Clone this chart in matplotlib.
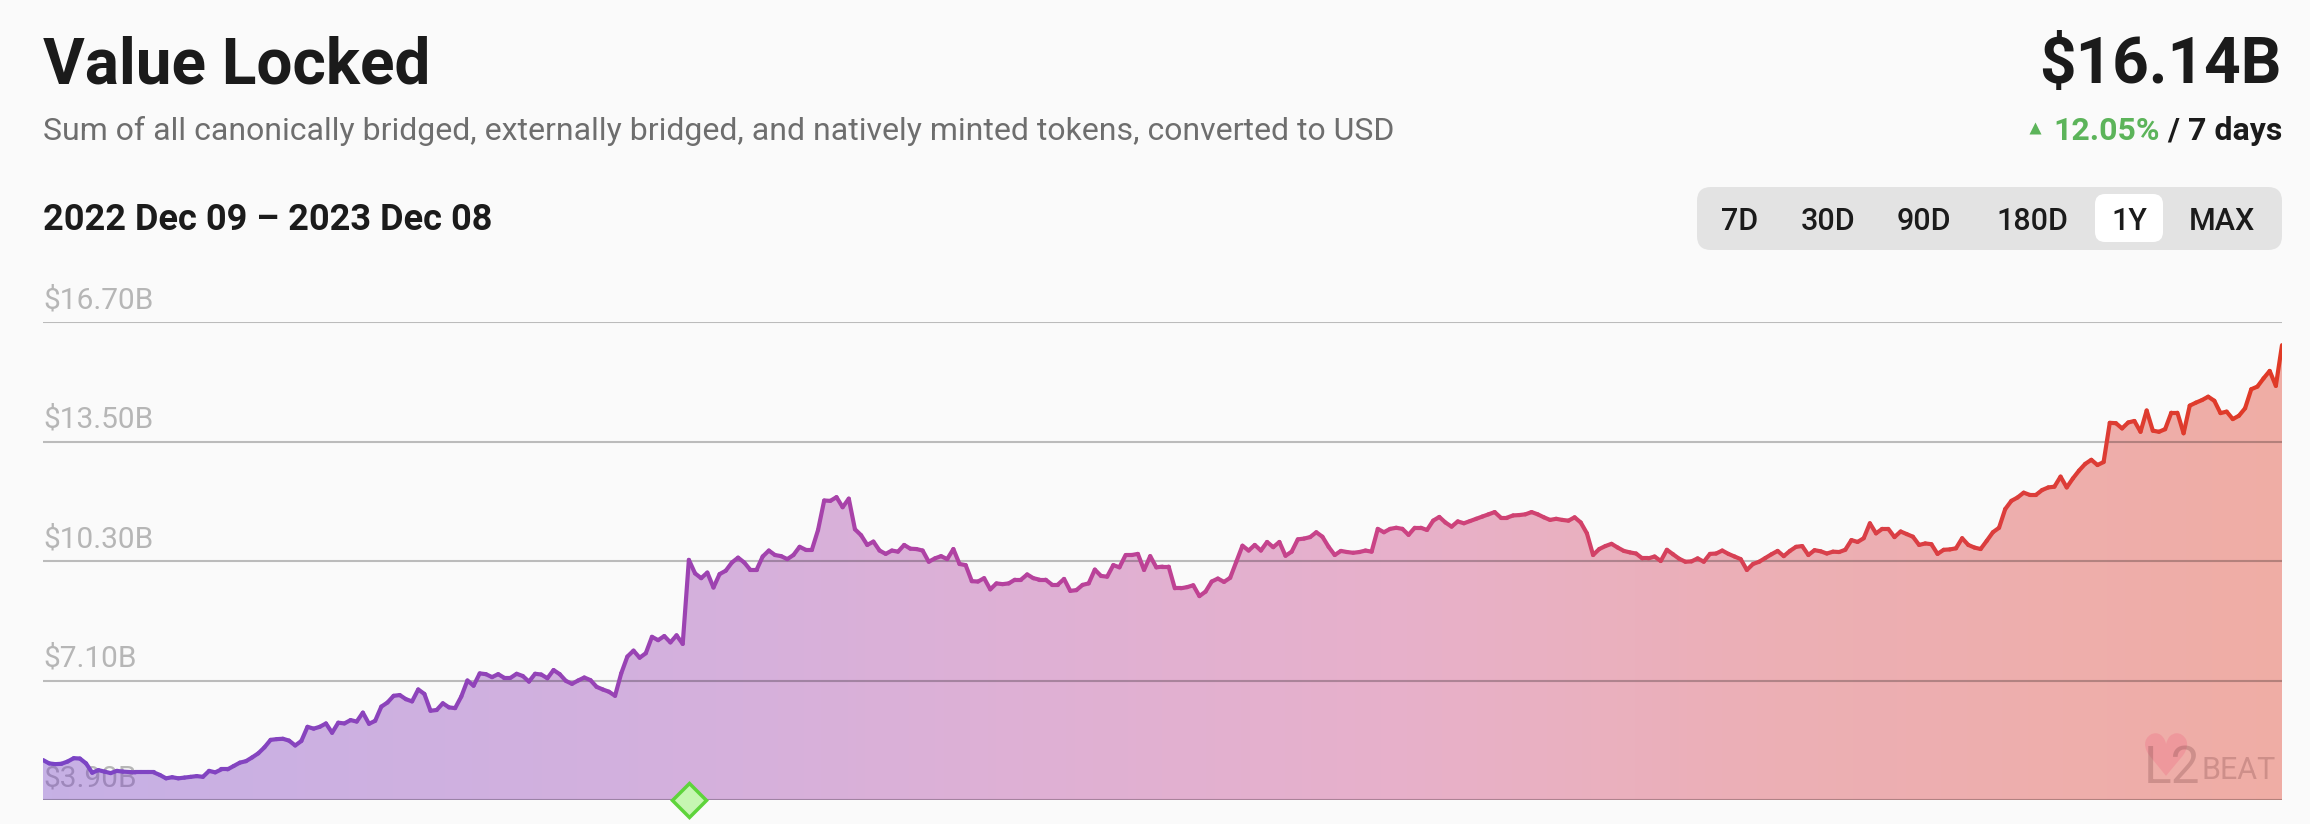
import numpy as np
import pandas as pd
import matplotlib
matplotlib.use('Agg')
import matplotlib.pyplot as plt
import matplotlib.dates as mdates
from matplotlib.collections import LineCollection
from matplotlib.colors import LinearSegmentedColormap
from matplotlib.patches import FancyBboxPatch
from matplotlib.path import Path
from matplotlib.textpath import TextPath
from matplotlib.font_manager import FontProperties

plt.rcParams['font.family'] = ['Roboto', 'DejaVu Sans']

# data: total value locked, $B, one value per day
dates = pd.date_range('2022-12-09', '2023-12-08', freq='D')
tvl = [
    4.97, 4.88, 4.86, 4.87, 4.93, 5.02, 5.01, 4.88, 4.63, 4.70,
    4.66, 4.62, 4.68, 4.66, 4.65, 4.64, 4.64, 4.64, 4.64, 4.57,
    4.48, 4.51, 4.48, 4.50, 4.52, 4.54, 4.52, 4.68, 4.64, 4.72,
    4.72, 4.81, 4.90, 4.94, 5.04, 5.15, 5.31, 5.51, 5.53, 5.54,
    5.49, 5.36, 5.48, 5.86, 5.81, 5.86, 5.95, 5.70, 5.97, 5.95,
    6.04, 6.00, 6.24, 5.94, 6.02, 6.40, 6.51, 6.69, 6.71, 6.60,
    6.54, 6.86, 6.74, 6.29, 6.31, 6.49, 6.38, 6.36, 6.67, 7.10,
    6.96, 7.29, 7.27, 7.19, 7.27, 7.17, 7.17, 7.28, 7.22, 7.07,
    7.28, 7.26, 7.16, 7.38, 7.27, 7.09, 7.01, 7.10, 7.18, 7.11,
    6.93, 6.86, 6.80, 6.69, 7.29, 7.74, 7.90, 7.71, 7.83, 8.27,
    8.18, 8.29, 8.12, 8.31, 8.08, 10.33, 9.97, 9.84, 9.99, 9.59,
    9.95, 10.04, 10.26, 10.39, 10.26, 10.06, 10.06, 10.42, 10.58, 10.46,
    10.43, 10.35, 10.46, 10.68, 10.60, 10.60, 11.13, 11.92, 11.91, 12.01,
    11.74, 11.97, 11.15, 10.99, 10.73, 10.82, 10.58, 10.49, 10.58, 10.55,
    10.73, 10.63, 10.62, 10.58, 10.28, 10.37, 10.43, 10.35, 10.62, 10.22,
    10.19, 9.76, 9.75, 9.84, 9.54, 9.70, 9.68, 9.70, 9.80, 9.80,
    9.94, 9.84, 9.80, 9.80, 9.67, 9.67, 9.82, 9.50, 9.52, 9.66,
    9.70, 10.07, 9.90, 9.88, 10.19, 10.13, 10.46, 10.46, 10.49, 10.06,
    10.43, 10.13, 10.15, 10.15, 9.57, 9.57, 9.60, 9.65, 9.36, 9.48,
    9.75, 9.83, 9.74, 9.85, 10.28, 10.71, 10.58, 10.73, 10.58, 10.81,
    10.67, 10.81, 10.44, 10.55, 10.88, 10.90, 10.94, 11.07, 10.95, 10.68,
    10.46, 10.57, 10.54, 10.52, 10.54, 10.58, 10.55, 11.16, 11.07, 11.16,
    11.19, 11.16, 11.00, 11.19, 11.19, 11.13, 11.38, 11.48, 11.33, 11.22,
    11.36, 11.31, 11.37, 11.43, 11.49, 11.55, 11.61, 11.46, 11.46, 11.52,
    11.53, 11.55, 11.61, 11.55, 11.47, 11.40, 11.43, 11.40, 11.38, 11.47,
    11.33, 11.04, 10.46, 10.62, 10.70, 10.76, 10.66, 10.57, 10.53, 10.50,
    10.37, 10.37, 10.42, 10.30, 10.60, 10.48, 10.36, 10.28, 10.29, 10.37,
    10.28, 10.49, 10.50, 10.58, 10.49, 10.42, 10.35, 10.06, 10.22, 10.28,
    10.38, 10.48, 10.57, 10.43, 10.57, 10.68, 10.70, 10.46, 10.59, 10.56,
    10.50, 10.55, 10.54, 10.60, 10.86, 10.81, 10.91, 11.31, 11.04, 11.16,
    11.16, 10.94, 11.09, 11.02, 10.95, 10.73, 10.77, 10.75, 10.49, 10.60,
    10.61, 10.64, 10.91, 10.73, 10.66, 10.62, 10.84, 11.07, 11.19, 11.69,
    11.91, 12.00, 12.13, 12.07, 12.07, 12.20, 12.27, 12.29, 12.56, 12.27,
    12.51, 12.72, 12.90, 13.01, 12.87, 12.95, 14.00, 13.99, 13.85, 14.01,
    14.05, 13.76, 14.33, 13.79, 13.76, 13.83, 14.27, 14.27, 13.72, 14.46,
    14.54, 14.61, 14.70, 14.59, 14.26, 14.30, 14.10, 14.19, 14.39, 14.90,
    14.97, 15.19, 15.39, 14.99, 16.08,
]
tick_values = [3.90, 7.10, 10.30, 13.50, 16.70]
tick_labels = ['$3.90B', '$7.10B', '$10.30B', '$13.50B', '$16.70B']
milestone_date = '2023-03-24'
ranges = ['7D', '30D', '90D', '180D', '1Y', 'MAX']
selected_range = '1Y'
total_value = '$16.14B'
change_7d = '12.05%'

W, H = 2310, 824
BG = '#fafafa'
DARK = '#1b1b1b'

fig = plt.figure(figsize=(W / 100, H / 100), dpi=100, facecolor=BG)

# header layer in pixel coordinates
hdr = fig.add_axes([0, 0, 1, 1], zorder=-1)
hdr.set_xlim(0, W)
hdr.set_ylim(H, 0)
hdr.axis('off')

hdr.text(43, 83, 'Value Locked', fontsize=46, fontweight='bold', color=DARK, va='baseline')
hdr.text(2282, 83, total_value, fontsize=46, fontweight='bold', color=DARK,
         ha='right', va='baseline', parse_math=False)
hdr.text(43, 140, 'Sum of all canonically bridged, externally bridged, and natively minted tokens, converted to USD',
         fontsize=23, color='#6e6e6e', va='baseline')
t_days = hdr.text(2282, 140, ' / 7 days', fontsize=23, fontweight='bold', color=DARK,
                  ha='right', va='baseline')
hdr.annotate(change_7d, xycoords=t_days, xy=(0, 0), ha='right', va='bottom',
             fontsize=23, fontweight='bold', color='#5cb45a')
hdr.plot(2035, 128, marker='^', ms=8, color='#5cb45a', mec='none')
hdr.text(43, 230, '2022 Dec 09 \u2013 2023 Dec 08', fontsize=26, fontweight='bold',
         color=DARK, va='baseline')

# range selector
hdr.add_patch(FancyBboxPatch((1697, 187), 585, 63, boxstyle='round,pad=0,rounding_size=14',
                             fc='#e3e3e3', ec='none'))
btn_x = [1740, 1828, 1924, 2032, 2129, 2222]
for lab, bx in zip(ranges, btn_x):
    if lab == selected_range:
        hdr.add_patch(FancyBboxPatch((bx - 34, 194), 68, 48, boxstyle='round,pad=0,rounding_size=10',
                                     fc='white', ec='none'))
    hdr.text(bx, 230, lab, fontsize=22, fontweight='medium', color=DARK, ha='center', va='baseline')

# chart
ax = fig.add_axes([43 / W, (H - 800) / H, (2282 - 43) / W, (800 - 322) / H])
ax.set_facecolor('none')
for s in ax.spines.values():
    s.set_visible(False)
ax.set_xticks([])
ax.set_yticks([])

x = mdates.date2num(dates)
y = np.array(tvl)
ymin, ymax = 3.9, 16.7
ax.set_xlim(x[0], x[-1])
ax.set_ylim(ymin, ymax)

line_cmap = LinearSegmentedColormap.from_list('tvl', [
    (0.0, '#7a44c6'), (0.29, '#9c43b2'), (0.43, '#b5429f'),
    (0.6, '#cb4385'), (0.77, '#d8404f'), (1.0, '#e03a26')])

for v, lab in zip(tick_values, tick_labels):
    ax.annotate(lab, xy=(x[0], v), xytext=(0, 10), textcoords='offset points',
                fontsize=21.5, color='#b6b6b6', va='baseline', zorder=0.5, parse_math=False)

poly = ax.fill_between(x, y, ymin, color='none', lw=0)
grad = ax.imshow(np.linspace(0, 1, 512)[None, :], cmap=line_cmap, aspect='auto', alpha=0.4,
                 extent=[x[0], x[-1], ymin, ymax], origin='lower', zorder=1)
grad.set_clip_path(poly.get_paths()[0], transform=ax.transData)

for v in tick_values:
    ax.axhline(v, color='black', alpha=0.25, lw=1.5, zorder=2)

pts = np.column_stack([x, y])
segs = np.stack([pts[:-1], pts[1:]], axis=1)
lc = LineCollection(segs, cmap=line_cmap, lw=3.0, zorder=4, capstyle='round', joinstyle='round')
lc.set_array((x[:-1] + x[1:]) / 2 - x[0])
lc.set_clim(0, x[-1] - x[0])
ax.add_collection(lc)

mx = mdates.date2num(pd.Timestamp(milestone_date))
ax.plot(mx, ymin, marker='D', ms=17, mfc='#c6f6b2', mec='#5ed43b', mew=2.5,
        clip_on=False, zorder=6)

# watermark (top layer in pixel coordinates)
wm = fig.add_axes([0, 0, 1, 1], zorder=5)
wm.set_xlim(0, W)
wm.set_ylim(H, 0)
wm.axis('off')
hp = TextPath((0, 0), '\u2665', prop=FontProperties(family='DejaVu Sans'))
hv = hp.vertices - (hp.vertices.min(axis=0) + hp.vertices.max(axis=0)) / 2
heart = Path(hv, hp.codes)
wm.plot(2163, 754, marker=heart, ms=34, color='#f0808f', alpha=0.45, mec='none')
wm.text(2144, 783, 'L2', fontsize=37, color='#8a5050', alpha=0.32, va='baseline')
wm.text(2201, 779, 'BEAT', fontsize=22, color='#8a5050', alpha=0.32, va='baseline')

fig.savefig('out.png', dpi=100, facecolor=BG)
